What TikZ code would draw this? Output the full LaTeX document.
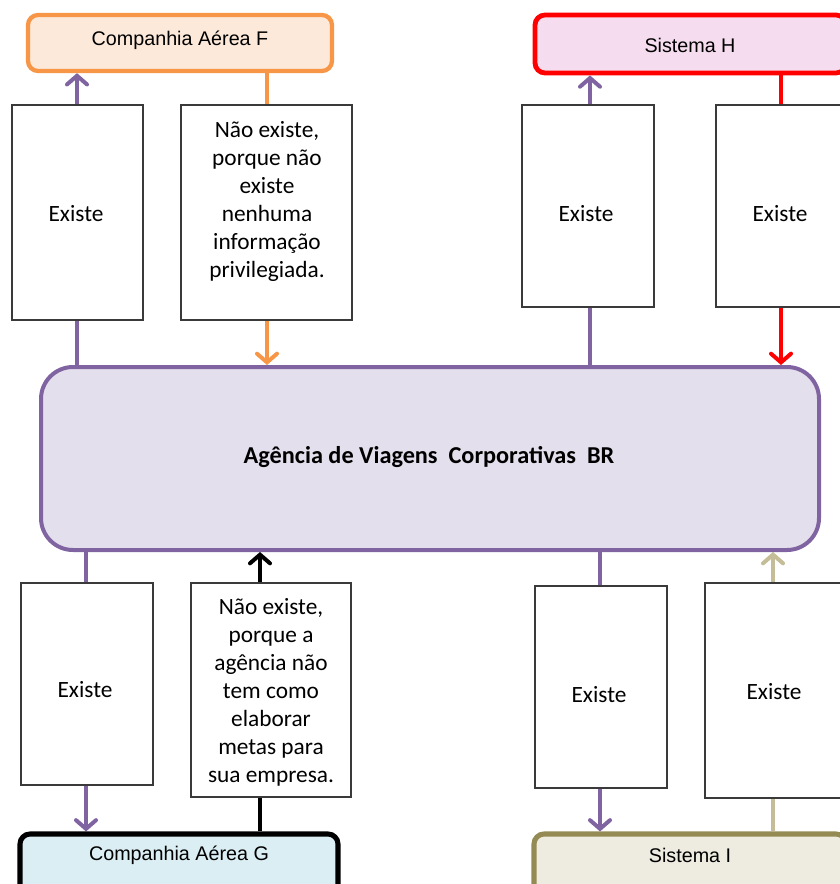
\documentclass[tikz,border=0pt]{standalone}
\usepackage{fontspec}
\setmainfont{Carlito}
\newfontfamily\labelfont{Liberation Sans}
\usetikzlibrary{arrows.meta,fit}
\pgfdeclarelayer{back}
\pgfsetlayers{back,main}

\definecolor{purp}{HTML}{8064A2}
\definecolor{purpfill}{HTML}{E4DFEC}
\definecolor{orng}{HTML}{F79646}
\definecolor{orngfill}{HTML}{FDE9D9}
\definecolor{pinkfill}{HTML}{F5DCEF}
\definecolor{bluefill}{HTML}{DBEEF4}
\definecolor{olive}{HTML}{948A54}
\definecolor{olivefill}{HTML}{EEECE1}
\definecolor{tan}{HTML}{C4BD97}
\definecolor{boxline}{HTML}{3A3A3A}

\begin{document}
\begin{tikzpicture}[x=0.75pt,y=-0.75pt,
  txtbox/.style={draw=boxline, line width=1.1pt, fill=white, inner sep=0pt},
  boxtext/.style={align=center, inner sep=0pt, font=\fontsize{17.5}{21}\selectfont},
  endbox/.style={rounded corners=7.5pt, line width=3.2pt, inner sep=0pt},
  endlabel/.style={font=\labelfont\fontsize{14.8}{18}\selectfont, inner sep=0pt},
  conn/.style={line width=3pt},
  arr/.style={-{Straight Barb[length=6.5pt,width=15pt,line cap=round]}}]
\useasboundingbox (0,0) rectangle (839,884);

% end points: airlines and systems
\node[endbox, draw=orng, fill=orngfill, fit={(28,15) (332,71)}] (F) {};
\node[endlabel] (Ft) at (180,40) {Companhia Aérea F};
\node[endbox, draw=red, fill=pinkfill, line width=3.6pt, fit={(535,15) (846,73)}] (H) {};
\node[endlabel] (Ht) at (690,45) {Sistema H};
\node[endbox, draw=black, fill=bluefill, line width=3.8pt, fit={(20,834) (338,895)}] (G) {};
\node[endlabel] (Gt) at (179,855) {Companhia Aérea G};
\node[endbox, draw=olive, fill=olivefill, line width=3.8pt, fit={(534,834) (846,895)}] (I) {};
\node[endlabel] (It) at (690,855) {Sistema I};

% central agency
\node[rounded corners=24pt, draw=purp, fill=purpfill, line width=3pt, inner sep=0pt,
  fit={(41,367) (819,550)}] (A) {};
\node[font=\bfseries\fontsize{18.2}{22}\selectfont, inner sep=0pt] (At) at (429,457)
  {Agência\ de\ Viagens\ \ Corporativas\ \ BR};

% information boxes above the agency
\node[txtbox, fit={(12,105) (143,320)}] (tl) {};
\node[boxtext] (tlt) at (76,214) {Existe};
\node[txtbox, fit={(181,105) (352,320)}] (tn) {};
\node[boxtext] (tnt) at (267,201)
  {Não existe,\\porque não\\existe\\nenhuma\\informação\\privilegiada.};
\node[txtbox, fit={(522,105) (654,307)}] (tr) {};
\node[boxtext] (trt) at (586,214) {Existe};
\node[txtbox, fit={(716,105) (846,307)}] (tf) {};
\node[boxtext] (tft) at (780,214) {Existe};

% information boxes below the agency
\node[txtbox, fit={(21,583) (153,785)}] (bl) {};
\node[boxtext] (blt) at (85,690) {Existe};
\node[txtbox, fit={(191,583) (351,797)}] (bn) {};
\node[boxtext] (bnt) at (271,692)
  {Não existe,\\porque a\\agência não\\tem como\\elaborar\\metas para\\sua empresa.};
\node[txtbox, fit={(535,586) (667,788)}] (br) {};
\node[boxtext] (brt) at (599,695) {Existe};
\node[txtbox, fit={(705,583) (846,798)}] (bf) {};
\node[boxtext] (bft) at (774,692) {Existe};

% connector columns
\coordinate (x1) at (77,0);
\coordinate (x2) at (267,0);
\coordinate (x3) at (590,0);
\coordinate (x4) at (781,0);
\coordinate (x5) at (86,0);
\coordinate (x6) at (260,0);
\coordinate (x7) at (600,0);
\coordinate (x8) at (773,0);

\begin{pgfonlayer}{back}
\draw[conn, purp, arr] (A.north -| x1) -- (F.south -| x1);
\draw[conn, orng, arr] (F.south -| x2) -- (A.north -| x2);
\draw[conn, purp, arr] (A.north -| x3) -- (H.south -| x3);
\draw[conn, red, arr] (H.south -| x4) -- (A.north -| x4);
\draw[conn, purp, arr] (A.south -| x5) -- (G.north -| x5);
\draw[conn, black, arr] (G.north -| x6) -- (A.south -| x6);
\draw[conn, purp, arr] (A.south -| x7) -- (I.north -| x7);
\draw[conn, tan, arr] (I.north -| x8) -- (A.south -| x8);
\end{pgfonlayer}
\end{tikzpicture}
\end{document}
